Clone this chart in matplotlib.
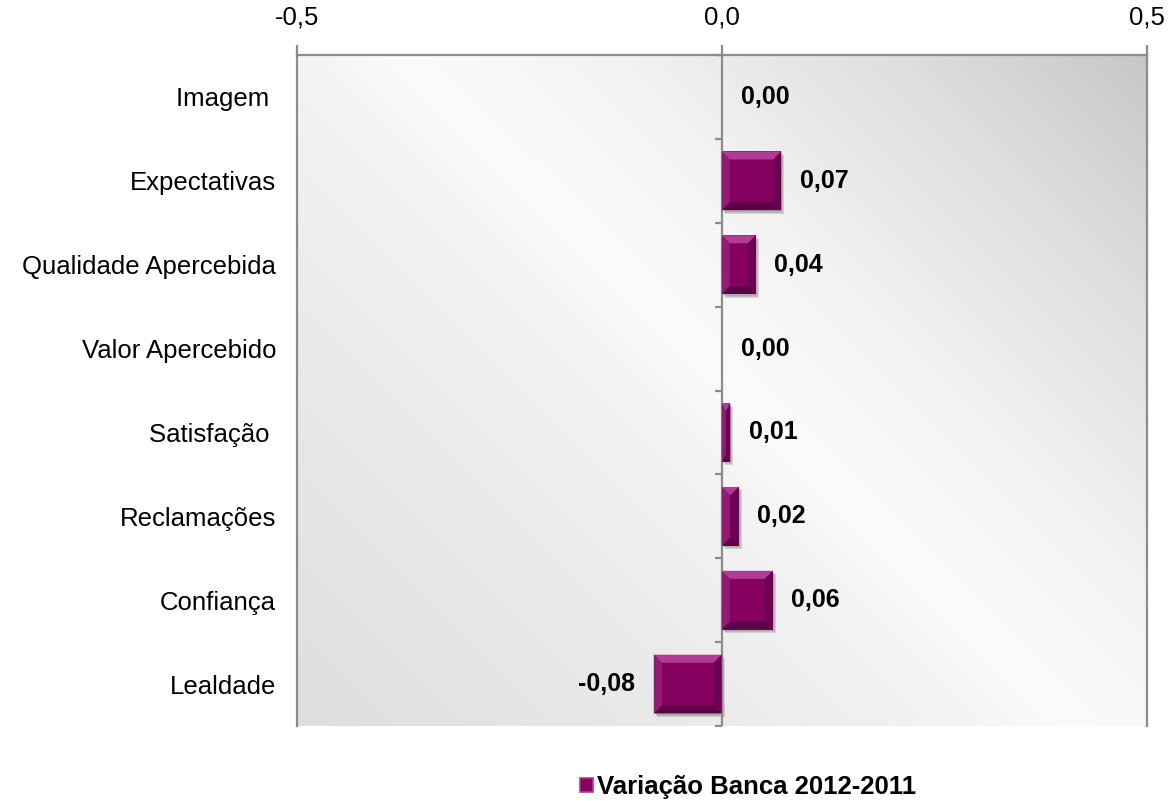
import numpy as np
import matplotlib
matplotlib.use("Agg")
import matplotlib.pyplot as plt
from matplotlib.patches import Rectangle, Polygon
from matplotlib import transforms

# Data
categories = ["Imagem ", "Expectativas", "Qualidade Apercebida", "Valor Apercebido",
              "Satisfação ", "Reclamações", "Confiança", "Lealdade"]
values = [0.00, 0.07, 0.04, 0.00, 0.01, 0.02, 0.06, -0.08]
xticks = [-0.5, 0.0, 0.5]
xticklabels = ["-0,5", "0,0", "0,5"]
series_name = "Variação Banca 2012-2011"

plt.rcParams["font.family"] = ["Liberation Sans", "DejaVu Sans"]

W, H, DPI = 1169, 801, 100
fig = plt.figure(figsize=(W / DPI, H / DPI), dpi=DPI)
fig.patch.set_facecolor("white")

left_px, right_px, top_px, bottom_px = 297, 1146.5, 55, 726
ax = fig.add_axes([left_px / W, 1 - bottom_px / H,
                   (right_px - left_px) / W, (bottom_px - top_px) / H])

n = len(categories)
ypos = np.arange(n)
ax.set_xlim(-0.5, 0.5)
ax.set_ylim(n - 0.5, -0.5)

# Diagonal grey gradient behind the plot area
gw, gh = int(right_px - left_px), int(bottom_px - top_px)
gx, gy = np.meshgrid(np.arange(gw), np.arange(gh))
s = gx - gy
stops_s = [-gh, -300, 0, 100, 300, 600, gw]
stops_v = [0.87, 0.915, 0.955, 0.985, 0.955, 0.87, 0.78]
grey = np.interp(s, stops_s, stops_v)
ax.imshow(np.dstack([grey, grey, grey]), extent=[0, 1, 0, 1], transform=ax.transAxes,
          aspect="auto", zorder=0, interpolation="bilinear")

# Bars
main_c = "#85005f"
bars = ax.barh(ypos, values, height=0.70, color=main_c, zorder=3, linewidth=0)

px_x = (right_px - left_px) / 1.0   # pixels per data unit (x)
px_y = (bottom_px - top_px) / n     # pixels per category
bev = 8.0

for bar in bars:
    x0, w = bar.get_x(), bar.get_width()
    if w < 0:
        x0, w = x0 + w, -w
    if w <= 0:
        continue
    y0, h = bar.get_y(), bar.get_height()
    x1 = x0 + w
    yt, yb = y0, y0 + h
    # soft drop shadow
    for k, a in enumerate([0.08, 0.10, 0.13]):
        sh = Rectangle((x0, y0), w, h, transform=transforms.offset_copy(
            ax.transData, fig, x=1.0 + k, y=-1.5 - k, units="dots"),
            facecolor="black", alpha=a, linewidth=0, zorder=2)
        ax.add_patch(sh)
    bx = min(bev / px_x, w / 2)
    by = min(bev / px_y, h / 2)
    faces = [
        ([(x0, yt), (x1, yt), (x1 - bx, yt + by), (x0 + bx, yt + by)], "#b13c95"),
        ([(x0, yb), (x1, yb), (x1 - bx, yb - by), (x0 + bx, yb - by)], "#5e0045"),
        ([(x0, yt), (x0 + bx, yt + by), (x0 + bx, yb - by), (x0, yb)], "#951a76"),
        ([(x1, yt), (x1 - bx, yt + by), (x1 - bx, yb - by), (x1, yb)], "#6d0052"),
    ]
    for pts, c in faces:
        ax.add_patch(Polygon(pts, closed=True, facecolor=c, edgecolor="none", zorder=4))

# Value labels
for yv, v in zip(ypos, values):
    txt = f"{v:.2f}".replace(".", ",")
    off = 13.5 if v >= 0 else -13.5
    ax.annotate(txt, xy=(v, yv), xytext=(off, 0), textcoords="offset points",
                ha="left" if v >= 0 else "right", va="center",
                fontsize=18, fontweight="bold", color="black", zorder=5)

# Category axis at zero with tick marks
axis_grey = "#8c8c8c"
ax.axvline(0, color=axis_grey, linewidth=1.6, zorder=3.5)
tick_len = 7.0 / px_x
for b in np.arange(n + 1) - 0.5:
    ax.plot([-tick_len, 0], [b, b], color=axis_grey, linewidth=1.6, zorder=3.5,
            solid_capstyle="butt", clip_on=False)

# Value axis on top
ax.xaxis.tick_top()
ax.set_xticks(xticks)
ax.set_xticklabels(xticklabels, fontsize=18.5)
ax.tick_params(axis="x", which="both", length=7, width=1.6, color=axis_grey, pad=11,
               top=True, bottom=False)
ax.set_yticks(ypos)
ax.set_yticklabels(categories, fontsize=18.5)
ax.tick_params(axis="y", length=0, pad=15)

for side in ["top", "left", "right"]:
    ax.spines[side].set_color(axis_grey)
    ax.spines[side].set_linewidth(1.6)
    ax.spines[side].set_zorder(3.5)
ax.spines["bottom"].set_visible(False)

# Legend
handle = Rectangle((0, 0), 1, 1, facecolor=main_c, edgecolor="#b13c95", linewidth=1.2)
fig.legend([handle], [series_name], loc="center",
           bbox_to_anchor=(748 / W, 1 - 787 / H), frameon=False,
           prop={"size": 18.5, "weight": "bold"}, handlelength=0.5, handleheight=0.5,
           handletextpad=0.15, borderpad=0)

fig.savefig("out.png", dpi=DPI)
